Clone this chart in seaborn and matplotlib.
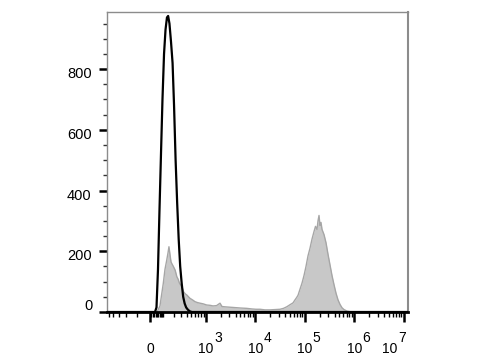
import numpy as np
import matplotlib
matplotlib.use("Agg")
import matplotlib.pyplot as plt
import seaborn as sns

# ---- data (fluorescence intensity vs. event count) ----
ctrl_x = [-544, 35, 46, 57, 68, 80, 92, 105, 118, 131, 142, 155, 171, 188, 205, 224,
          244, 265, 287, 310, 335, 361, 389, 427, 470, 518, 12200000]
ctrl_y = [0, 0, 15, 140, 330, 520, 700, 850, 930, 970, 975, 950, 890, 820, 680, 500,
          360, 240, 150, 95, 50, 28, 15, 7, 2, 0, 0]

stain_x = [-544, 50, 72, 99, 113, 129, 141, 150, 160, 171, 182, 197, 218, 240, 257, 276,
           313, 340, 370, 402, 437, 470, 530, 599, 675, 760, 876, 1043, 1217, 1401,
           1653, 1943, 2133, 2453, 2955, 3560, 4289, 5166, 6735, 8618, 10380, 12500,
           15780, 19900, 25120, 31700, 37310, 43290, 50470, 58040, 63700, 68940, 73240,
           80360, 88200, 96790, 106200, 116600, 127900, 140400, 154100, 165200, 177200,
           185600, 194500, 203700, 213400, 223600, 245300, 269300, 295500, 324300,
           355900, 390500, 428600, 470400, 516200, 566500, 621700, 714700, 822000,
           990000, 12200000]
stain_y = [0, 0, 20, 95, 140, 171, 195, 215, 190, 165, 158, 150, 138, 116, 108, 95,
           83, 67, 60, 56, 50, 45, 40, 34, 31, 29, 27, 23, 22, 20,
           21, 29, 18, 17, 16, 15, 14, 13, 12, 10, 9, 9,
           7, 7, 8, 9, 12, 17, 24, 30, 40, 48, 55,
           75, 95, 120, 150, 185, 210, 240, 265, 282, 272,
           300, 318, 285, 295, 272, 255, 228, 190, 155,
           120, 90, 62, 40, 25, 14, 8, 3, 1,
           0, 0]

x_major = [0, 1e3, 1e4, 1e5, 1e6, 1e7]
x_base_labels = ["0", "10", "10", "10", "10", "10"]
x_exp_labels = ["", "3", "4", "5", "6", "7"]
y_major = [0, 200, 400, 600, 800]
y_major_labels = ["0", "200", "400", "600", "800"]

# ---- style ----
sns.set_theme(style="ticks")
plt.rcParams["font.family"] = ["Liberation Sans", "DejaVu Sans"]

fig = plt.figure(figsize=(4.8, 3.6), dpi=100)
ax = fig.add_axes([107 / 480, 1 - 312 / 360, 301 / 480, 300 / 360])

C = 150.0
ax.set_xscale("function", functions=(lambda v: np.arcsinh(np.asarray(v) / C),
                                     lambda u: C * np.sinh(np.asarray(u))))

ax.fill_between(stain_x, 0, stain_y, color="#c8c8c8", linewidth=0, zorder=1)
sns.lineplot(x=stain_x, y=stain_y, ax=ax, color="#a6a6a6", linewidth=1.0,
             sort=False, estimator=None, zorder=2)
sns.lineplot(x=ctrl_x, y=ctrl_y, ax=ax, color="black", linewidth=1.6,
             sort=False, estimator=None, zorder=3)

ax.set_xlim(-544, 1.22e7)
ax.set_ylim(0, 988)

PX = 72.0 / 100.0  # points per pixel

# x ticks
ax.set_xticks(x_major)
ax.set_xticklabels([])
minor = [-500, -400, -300, -200, -100]
minor += [m * 10 for m in range(1, 11)]
for k in range(2, 7):
    minor += [m * 10 ** k for m in range(2, 10)]
ax.set_xticks(minor, minor=True)
ax.tick_params(axis="x", which="major", direction="out", length=7, width=1.8,
               color="black")
ax.tick_params(axis="x", which="minor", direction="out", length=3.5, width=1.0,
               color="black")

# x tick labels: base "10" centred under tick, exponent at full size to the right
for i, (val, base, ex) in enumerate(zip(x_major, x_base_labels, x_exp_labels)):
    shift = -14 if i == len(x_major) - 1 else 0
    ax.annotate(base, xy=(val, 0), xycoords=("data", "axes fraction"),
                xytext=(shift * PX, -37 * PX), textcoords="offset points",
                ha="center", va="center", fontsize=10, color="black",
                annotation_clip=False)
    if ex:
        ax.annotate(ex, xy=(val, 0), xycoords=("data", "axes fraction"),
                    xytext=((shift + 12) * PX, -26 * PX), textcoords="offset points",
                    ha="center", va="center", fontsize=10, color="black",
                    annotation_clip=False)

# y ticks
ax.set_yticks(y_major)
ax.set_yticklabels([])
ax.set_yticks(np.arange(50, 1000, 50), minor=True)
ax.tick_params(axis="y", which="major", direction="out", length=6, width=1.8,
               color="black")
ax.tick_params(axis="y", which="minor", direction="out", length=3, width=1.0,
               color="#333333")
for val, lab in zip(y_major, y_major_labels):
    dy = 6 if val == 0 else -5
    dx = -14 if val == 0 else -15.5
    ax.annotate(lab, xy=(0, val), xycoords=("axes fraction", "data"),
                xytext=(dx * PX, dy * PX), textcoords="offset points",
                ha="right", va="center", fontsize=10.5, color="black",
                annotation_clip=False)

for side in ["top", "right", "left"]:
    ax.spines[side].set_visible(True)
    ax.spines[side].set_color("#8c8c8c")
    ax.spines[side].set_linewidth(1.0)
ax.spines["right"].set_linewidth(1.5)
ax.spines["bottom"].set_color("black")
ax.spines["bottom"].set_linewidth(2.0)

ax.set_xlabel("")
ax.set_ylabel("")

fig.savefig("out.png", dpi=100)
